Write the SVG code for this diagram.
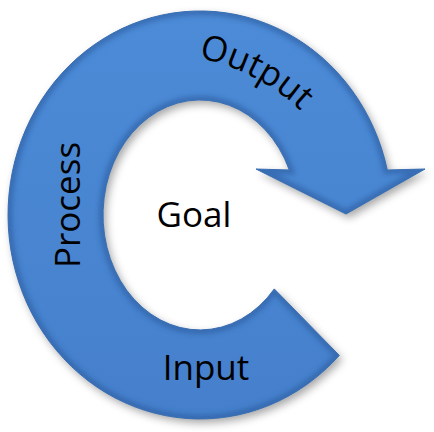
<svg xmlns="http://www.w3.org/2000/svg" width="434" height="432" viewBox="0 0 434 432">
  <style>
    .lbl { font-family: "Open Sans", "Liberation Sans", sans-serif; font-size: 35px; fill: #000; }
  </style>
  <defs>
    <path id="ring" d="M339.3 355.4 A192 204 0 1 1 387.3 170 L425 169 L346 214 L256 169 L289.3 170 A97 115 0 1 0 274.3 288.9 Z"/>
    <linearGradient id="fillGrad" x1="0" y1="0" x2="0" y2="1">
      <stop offset="0" stop-color="#4d8bd7"/>
      <stop offset="1" stop-color="#4580cc"/>
    </linearGradient>
    <filter id="shadow" x="-10%" y="-10%" width="125%" height="125%">
      <feDropShadow dx="3" dy="4" stdDeviation="4" flood-color="#000" flood-opacity="0.35"/>
    </filter>
    <filter id="soft" x="-10%" y="-10%" width="120%" height="120%">
      <feGaussianBlur stdDeviation="2.5"/>
    </filter>
    <clipPath id="ringClip">
      <use href="#ring"/>
    </clipPath>
    <path id="outputArc" d="M104.2 61.1 A208 208 0 0 1 357.9 204.7"/>
  </defs>

  <g id="circular-arrow">
    <use href="#ring" fill="url(#fillGrad)" filter="url(#shadow)"/>
    <g clip-path="url(#ringClip)">
      <use href="#ring" fill="none" stroke="#2a5a9a" stroke-width="9" stroke-opacity="0.55" filter="url(#soft)"/>
    </g>
    <use href="#ring" fill="none" stroke="#3a6fb3" stroke-width="1"/>
  </g>

  <g id="label-output">
    <text class="lbl"><textPath href="#outputArc" startOffset="47.5%" text-anchor="middle">Output</textPath></text>
  </g>
  <g id="label-process">
    <text class="lbl" transform="translate(80,205) rotate(-90)" text-anchor="middle">Process</text>
  </g>
  <g id="label-input">
    <text class="lbl" x="206" y="380" text-anchor="middle">Input</text>
  </g>
  <g id="label-goal">
    <text class="lbl" x="194" y="227" text-anchor="middle">Goal</text>
  </g>
</svg>
